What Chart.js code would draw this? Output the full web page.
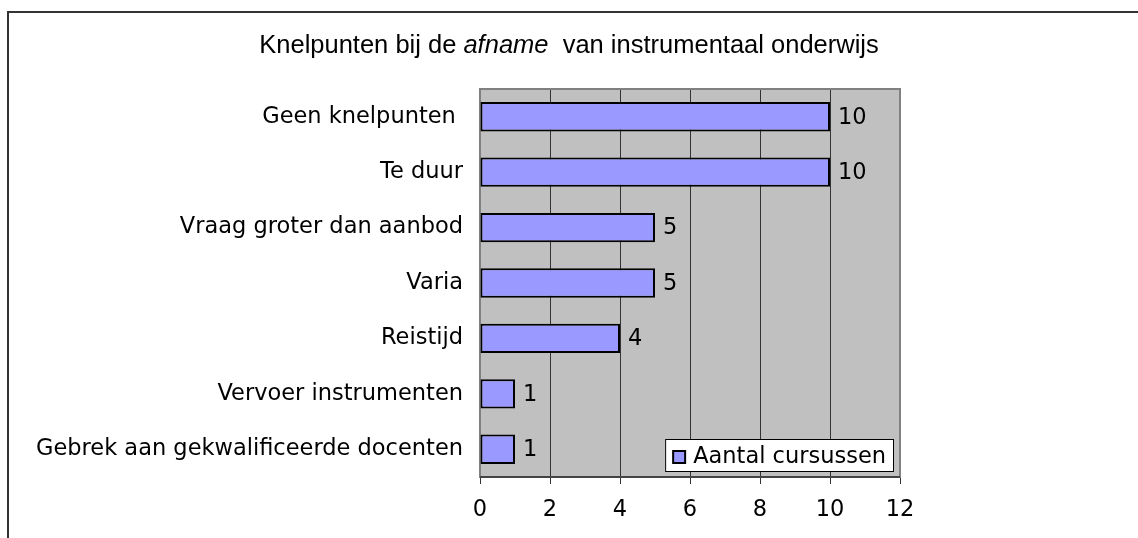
<!DOCTYPE html>
<html>
<head>
<meta charset="utf-8">
<script src="https://cdn.jsdelivr.net/npm/chart.js@4"></script>
<style>
  html, body { margin: 0; padding: 0; background: #fff; }
  #wrap { position: relative; width: 1138px; height: 538px; }
  #frame { position: absolute; left: 7px; top: 11px; width: 1131px; height: 527px;
           border-left: 2px solid #333; border-top: 2px solid #333; box-sizing: border-box; }
</style>
</head>
<body>
<div id="wrap">
  <div id="frame"></div>
  <canvas id="knelChart" width="1138" height="538"></canvas>
</div>
<script>
// data
const categories = [
  'Geen knelpunten ',
  'Te duur',
  'Vraag groter dan aanbod',
  'Varia',
  'Reistijd',
  'Vervoer instrumenten',
  'Gebrek aan gekwalificeerde docenten'
];
const cursussen = [10, 10, 5, 5, 4, 1, 1];
const xTicks = [0, 2, 4, 6, 8, 10, 12];
const seriesName = 'Aantal cursussen';

const LABEL_SIZE = 22.5;
const LABEL_FONT = LABEL_SIZE + 'px "DejaVu Sans"';
const BAR_COLOR = '#9999FF';

// grey plot background + frame
const plotBg = {
  id: 'plotBg',
  beforeDraw(chart) {
    const { ctx, chartArea: a } = chart;
    ctx.save();
    ctx.fillStyle = '#C0C0C0';
    ctx.fillRect(a.left, a.top, a.right - a.left, a.bottom - a.top);
    ctx.restore();
  },
  beforeDatasetsDraw(chart) {
    const { ctx, chartArea: a } = chart;
    ctx.save();
    ctx.strokeStyle = '#808080';
    ctx.lineWidth = 2;
    ctx.strokeRect(a.left, a.top, a.right - a.left, a.bottom - a.top);
    ctx.strokeStyle = '#444';
    ctx.beginPath();
    ctx.moveTo(a.left, a.bottom);
    ctx.lineTo(a.right, a.bottom);
    ctx.stroke();
    ctx.restore();
  }
};

// title with italic word
const mixedTitle = {
  id: 'mixedTitle',
  afterDraw(chart) {
    const ctx = chart.ctx;
    const parts = [
      ['Knelpunten bij de ', 'normal'],
      ['afname', 'italic'],
      ['  van instrumentaal onderwijs', 'normal']
    ];
    const size = 25.5;
    ctx.save();
    let total = 0;
    parts.forEach(p => {
      ctx.font = p[1] + ' ' + size + 'px "Liberation Sans"';
      total += ctx.measureText(p[0]).width;
    });
    let x = 569 - total / 2;
    ctx.fillStyle = '#000';
    ctx.textBaseline = 'middle';
    parts.forEach(p => {
      ctx.font = p[1] + ' ' + size + 'px "Liberation Sans"';
      ctx.fillText(p[0], x, 46);
      x += ctx.measureText(p[0]).width;
    });
    ctx.restore();
  }
};

// value labels next to bars
const valueLabels = {
  id: 'valueLabels',
  afterDatasetsDraw(chart) {
    const ctx = chart.ctx;
    const meta = chart.getDatasetMeta(0);
    ctx.save();
    ctx.font = LABEL_FONT;
    ctx.fillStyle = '#000';
    ctx.textBaseline = 'middle';
    ctx.textAlign = 'left';
    meta.data.forEach((bar, i) => {
      ctx.fillText(String(cursussen[i]), bar.x + 8, bar.y + 1);
    });
    ctx.restore();
  }
};

// legend box inside plot, bottom right
const boxLegend = {
  id: 'boxLegend',
  afterDraw(chart) {
    const ctx = chart.ctx;
    const a = chart.chartArea;
    const right = a.right - 6, bottom = a.bottom - 5;
    ctx.save();
    ctx.font = LABEL_FONT;
    const tw = ctx.measureText(seriesName).width;
    const w = tw + 36, h = 33;
    const left = right - w, top = bottom - h;
    ctx.fillStyle = '#fff';
    ctx.fillRect(left, top, w, h);
    ctx.strokeStyle = '#000';
    ctx.lineWidth = 1;
    ctx.strokeRect(left + 0.5, top + 0.5, w - 1, h - 1);
    ctx.fillStyle = BAR_COLOR;
    ctx.fillRect(left + 8, top + 12, 12, 12);
    ctx.lineWidth = 2;
    ctx.strokeRect(left + 8, top + 12, 12, 12);
    ctx.fillStyle = '#000';
    ctx.textBaseline = 'middle';
    ctx.fillText(seriesName, left + 28, top + h / 2 + 2);
    ctx.restore();
  }
};

const ctx = document.getElementById('knelChart').getContext('2d');
const knelChart = new Chart(ctx, {
  type: 'bar',
  data: {
    labels: categories,
    datasets: [{
      label: seriesName,
      data: cursussen,
      backgroundColor: BAR_COLOR,
      borderColor: '#000',
      borderWidth: 2,
      borderSkipped: false,
      categoryPercentage: 1,
      barPercentage: 0.53
    }]
  },
  options: {
    indexAxis: 'y',
    responsive: false,
    animation: false,
    events: [],
    layout: { padding: { left: 0, top: 89, right: 238, bottom: 0 } },
    plugins: {
      legend: { display: false },
      title: { display: false },
      tooltip: { enabled: false }
    },
    scales: {
      x: {
        min: 0,
        max: 12,
        afterBuildTicks(scale) {
          scale.ticks = xTicks.map(v => ({ value: v }));
        },
        afterFit(scale) { scale.height = 61; },
        grid: {
          color: c => (c.tick && (c.tick.value === 0 || c.tick.value === 12)) ? '#808080' : '#333',
          tickColor: '#333',
          tickLength: 7,
          lineWidth: 1
        },
        border: { display: false },
        ticks: {
          color: '#000',
          font: { family: 'DejaVu Sans', size: LABEL_SIZE },
          padding: 13
        }
      },
      y: {
        afterFit(scale) { scale.width = 480; },
        grid: { display: false, drawTicks: false },
        border: { display: false },
        ticks: {
          color: '#000',
          font: { family: 'DejaVu Sans', size: LABEL_SIZE },
          padding: 17
        }
      }
    }
  },
  plugins: [plotBg, valueLabels, boxLegend, mixedTitle]
});
</script>
</body>
</html>
